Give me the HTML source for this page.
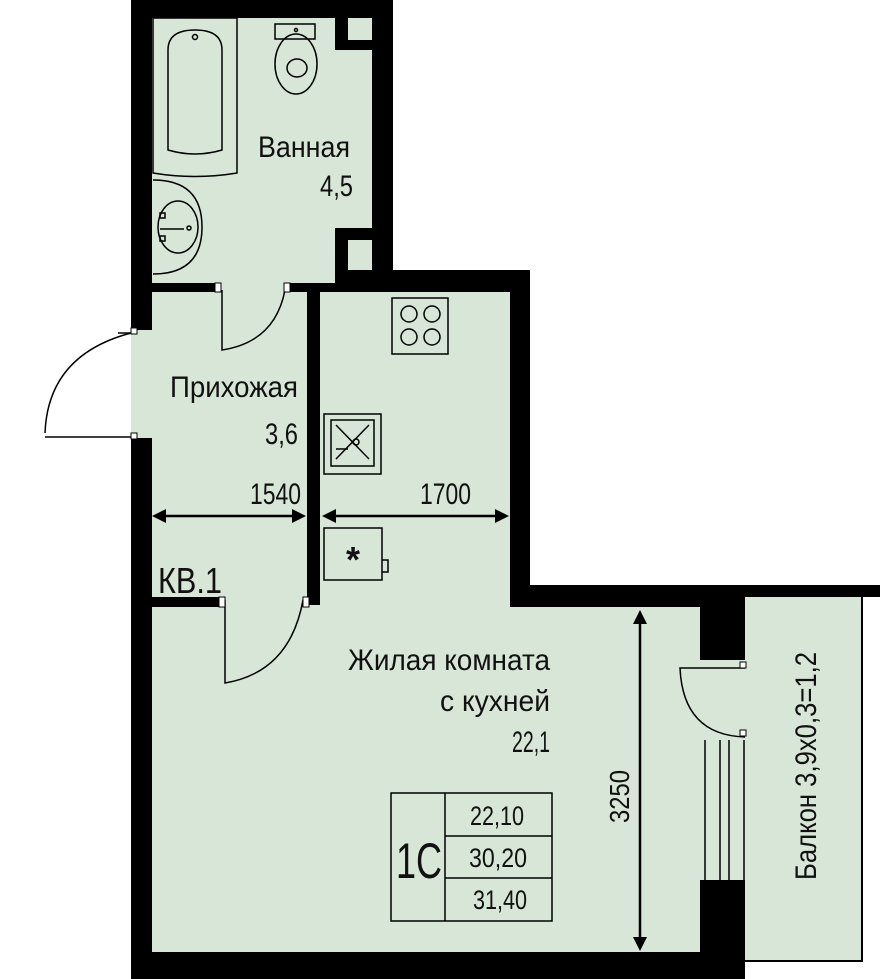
<!DOCTYPE html>
<html><head><meta charset="utf-8"><style>
html,body{margin:0;padding:0;background:#fff}
svg{display:block}
text{font-family:"Liberation Sans Narrow","Liberation Sans",sans-serif;fill:#111}
</style></head><body>
<svg width="880" height="979" viewBox="0 0 880 979" xmlns="http://www.w3.org/2000/svg">
<path d="M131 0H393V270H530V590H862V962H740V979H131Z" fill="#d7e6d6"/>
<rect x="862" y="597" width="18" height="365" fill="#fff"/>
<g fill="#000">
<rect x="131" y="0" width="262" height="18"/>
<rect x="131" y="0" width="21" height="330"/>
<rect x="131" y="438" width="21" height="541"/>
<rect x="372" y="0" width="21" height="292"/>
<rect x="335" y="18" width="37" height="32"/>
<rect x="335" y="228" width="37" height="64"/>
<rect x="372" y="270" width="158" height="22"/>
<rect x="510" y="270" width="20" height="335"/>
<rect x="510" y="585" width="370" height="12"/>
<rect x="510" y="597" width="235" height="10"/>
<rect x="152" y="283" width="65" height="9"/>
<rect x="290" y="283" width="82" height="9"/>
<rect x="307" y="292" width="13" height="313"/>
<rect x="152" y="597" width="70" height="10"/>
<rect x="700" y="597" width="45" height="63"/>
<rect x="700" y="880" width="45" height="99"/>
<rect x="131" y="952" width="614" height="27"/>
<rect x="861" y="597" width="2" height="365"/>
<rect x="740" y="960" width="123" height="2"/>
</g>
<rect x="348" y="18" width="24" height="22" fill="#d7e6d6"/>
<rect x="348" y="240" width="24" height="30" fill="#d7e6d6"/>
<g fill="none" stroke="#000" stroke-width="1.5">
<path d="M153 18H237V173Q195 180 153 173Z"/>
<path d="M168 50Q168 30 195 30Q222 30 222 50V150Q195 158 168 150Z"/>
<circle cx="195" cy="37" r="2.5"/>
<rect x="275" y="24" width="40" height="15"/>
<circle cx="296" cy="30" r="1.5"/>
<ellipse cx="296" cy="64" rx="21" ry="30"/>
<ellipse cx="297" cy="68" rx="10" ry="9"/>
<path d="M153 180Q202 180 202 227Q202 274 153 274"/>
<ellipse cx="178" cy="227" rx="20" ry="26"/>
<path d="M160 229H184"/><circle cx="189" cy="228" r="2"/>
<rect x="160" y="213" width="5" height="5"/><rect x="160" y="236" width="5" height="5"/>
<path d="M222 290V350Q275 342 285 290"/>
<path d="M131 333H118"/><path d="M45 437H131"/>
<path d="M45 433Q48 355 131 333"/>
<rect x="392" y="298" width="56" height="56"/>
<circle cx="409" cy="314" r="8"/><circle cx="432" cy="314" r="8"/>
<circle cx="409" cy="337" r="8"/><circle cx="432" cy="337" r="8"/>
<rect x="324" y="414" width="57" height="60"/>
<rect x="331" y="420" width="43" height="46"/>
<path d="M336 425L369 459M369 425L336 459"/>
<circle cx="356" cy="442" r="3"/>
<path d="M336 449H348"/>
<rect x="324" y="528" width="58" height="52"/>
<path d="M382 560h6v12h-6"/>
<path d="M225 600V683Q290 672 303 600"/>
<path d="M745 668H680Q683 735 745 737"/>
<path d="M705 740V880M720 740V880M729 740V880M744 740V880"/>
<rect x="391" y="793" width="161" height="128"/>
<path d="M445 793V921M445 836H552M445 878H552"/>
</g>
<g fill="#fff" stroke="#000" stroke-width="1">
<rect x="131" y="328" width="6" height="6"/><rect x="131" y="433" width="6" height="6"/>
<rect x="215" y="283" width="6" height="9"/><rect x="284" y="283" width="6" height="9"/>
<rect x="219" y="597" width="6" height="10"/><rect x="303" y="597" width="6" height="10"/>
<rect x="740" y="662" width="6" height="6"/><rect x="740" y="730" width="6" height="6"/>
</g>
<g stroke="#000" stroke-width="2.5" fill="#000">
<line x1="158" y1="516" x2="300" y2="516"/>
<path d="M152 516l14-7v14z M306 516l-14-7v14z" stroke="none"/>
<line x1="328" y1="516" x2="503" y2="516"/>
<path d="M322 516l14-7v14z M509 516l-14-7v14z" stroke="none"/>
<line x1="640" y1="618" x2="640" y2="944"/>
<path d="M640 610l-7 14h14z M640 951l-7-14h14z" stroke="none"/>
</g>
<g font-size="30" lengthAdjust="spacingAndGlyphs">
<text x="258" y="157" textLength="92" lengthAdjust="spacingAndGlyphs">Ванная</text>
<text x="320" y="196" textLength="33" lengthAdjust="spacingAndGlyphs">4,5</text>
<text x="170" y="397" textLength="128" lengthAdjust="spacingAndGlyphs">Прихожая</text>
<text x="265" y="444" textLength="33" lengthAdjust="spacingAndGlyphs">3,6</text>
<text x="250" y="504" textLength="51" lengthAdjust="spacingAndGlyphs">1540</text>
<text x="420" y="504" textLength="51" lengthAdjust="spacingAndGlyphs">1700</text>
<text x="348" y="670" textLength="202" lengthAdjust="spacingAndGlyphs">Жилая комната</text>
<text x="440" y="711" textLength="110" lengthAdjust="spacingAndGlyphs">с кухней</text>
<text x="512" y="752" textLength="38" lengthAdjust="spacingAndGlyphs">22,1</text>
<text x="158" y="593" font-size="36" textLength="64" lengthAdjust="spacingAndGlyphs">КВ.1</text>
<text x="470" y="825" font-size="27" textLength="54" lengthAdjust="spacingAndGlyphs">22,10</text>
<text x="469" y="867" font-size="27" textLength="58" lengthAdjust="spacingAndGlyphs">30,20</text>
<text x="473" y="909" font-size="27" textLength="54" lengthAdjust="spacingAndGlyphs">31,40</text>
<text x="396" y="878" font-size="50" textLength="46" lengthAdjust="spacingAndGlyphs">1С</text>
<text transform="translate(629,823) rotate(-90)" font-size="28" textLength="53" lengthAdjust="spacingAndGlyphs">3250</text>
<text transform="translate(816,880) rotate(-90)" font-size="30" textLength="228" lengthAdjust="spacingAndGlyphs">Балкон 3,9х0,3=1,2</text>
<text x="353" y="572" text-anchor="middle" font-size="36" font-weight="bold">*</text>
</g>
</svg>
</body></html>
